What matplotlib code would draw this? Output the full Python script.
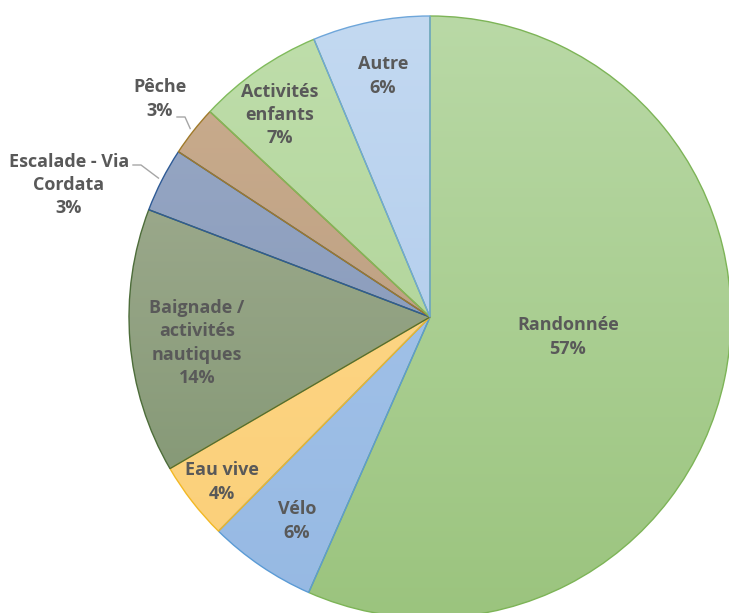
import numpy as np
import matplotlib.pyplot as plt
from matplotlib.colors import to_rgb

# data, clockwise from 12 o'clock (shares in %)
labels = ["Randonnée", "Vélo", "Eau vive", "Baignade /\nactivités\nnautiques",
          "Escalade - Via\nCordata", "Pêche", "Activités\nenfants", "Autre"]
values = [56.6, 5.8, 4.2, 14.2, 3.45, 2.7, 6.75, 6.3]

# gradient top -> bottom, and edge colour
top_colors = ["#b9d9a6", "#a9c7ec", "#fed98c", "#a8b298", "#9aaac6", "#cbae8f", "#bfdeab", "#c3d9f1"]
bottom_colors = ["#9bc47e", "#96b9e3", "#fbcf78", "#7c926d", "#8093b6", "#b5977a", "#a9cf90", "#a9c6ea"]
edge_colors = ["#7db457", "#5b9bd5", "#f2b824", "#4d6d3a", "#2f5b96", "#a07a2a", "#80bb5c", "#6ea6da"]

# label centres in figure pixels (layout)
label_pos = [(568, 337), (297, 521), (222, 482), (197, 343),
             (69, 185), (160, 99), (280, 115), (383, 76)]
outside = [False, False, False, False, True, True, False, False]

W, H = 729, 613
cx, cy, r = 430, H - 317, 301

fig = plt.figure(figsize=(W / 100, H / 100), dpi=100)
ax = fig.add_axes([0, 0, 1, 1])
ax.set_axis_off()

wedges, _ = ax.pie(values, startangle=90, counterclock=False, radius=r,
                   center=(cx, cy), frame=True,
                   wedgeprops=dict(linewidth=1.0, facecolor="none"))

for w, ct, cb, ec in zip(wedges, top_colors, bottom_colors, edge_colors):
    w.set_edgecolor(ec)
    w.set_zorder(3)
    t = np.linspace(0, 1, 256)[:, None, None]
    grad = (1 - t) * np.array(to_rgb(ct)) + t * np.array(to_rgb(cb))
    im = ax.imshow(grad, extent=[cx - r, cx + r, cy - r, cy + r], aspect="auto",
                   origin="upper", zorder=2, interpolation="bilinear")
    im.set_clip_path(w)

# percentages and leader lines
total = sum(values)
ang = 90.0
for i, (lab, v) in enumerate(zip(labels, values)):
    mid = np.deg2rad(ang - 360 * v / total / 2)
    ang -= 360 * v / total
    x, y = label_pos[i]
    ax.text(x, H - y, f"{lab}\n{round(100 * v / total)}%", ha="center", va="center",
            fontsize=13, fontweight="bold", color="#595959", family="Open Sans",
            linespacing=1.38, zorder=5)
    if outside[i]:
        ex, ey = cx + (r + 4) * np.cos(mid), cy + (r + 4) * np.sin(mid)
        if lab.startswith("Escalade"):
            sx, sy = 133, H - 165
        else:
            sx, sy = 177, H - 117
        ax.plot([sx, sx + 8, ex], [sy, sy, ey], color="#a6a6a6", lw=1, zorder=4)

ax.set_xlim(0, W)
ax.set_ylim(0, H)
ax.set_aspect("equal")

fig.savefig("out.png", dpi=100)
